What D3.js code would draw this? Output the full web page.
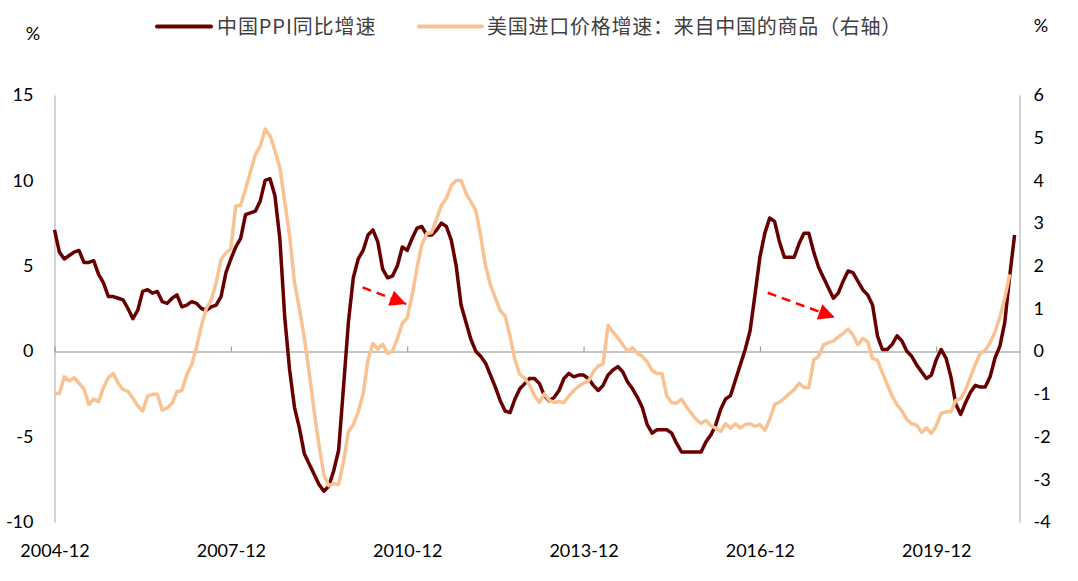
<!DOCTYPE html>
<html>
<head>
<meta charset="utf-8">
<script src="https://cdn.jsdelivr.net/npm/d3@7"></script>
<style>
  body { margin: 0; background: #fff; }
  text { font-family: Lato, "Noto Sans CJK SC", sans-serif; }
</style>
</head>
<body>
<div id="container"></div>
<script>
const w = 1078;
const h = 581;

// monthly, starting 2004-12
const ppi = [7.1,
  5.8,5.4,5.6,5.8,5.9,5.2,5.2,5.3,4.5,4.0,3.2,3.2,
  3.1,3.0,2.5,1.9,2.4,3.5,3.6,3.4,3.5,2.9,2.8,3.1,
  3.3,2.6,2.7,2.9,2.8,2.5,2.4,2.6,2.7,3.2,4.6,5.4,
  6.1,6.6,8.0,8.1,8.2,8.8,10.0,10.1,9.1,6.6,2.0,-1.1,
  -3.3,-4.5,-6.0,-6.6,-7.2,-7.8,-8.2,-7.9,-7.0,-5.8,-2.1,1.7,
  4.3,5.4,5.9,6.8,7.1,6.4,4.8,4.3,4.4,5.0,6.1,5.9,
  6.6,7.2,7.3,6.8,6.8,7.1,7.5,7.3,6.5,5.0,2.7,1.7,
  0.7,0.0,-0.3,-0.7,-1.4,-2.1,-2.9,-3.5,-3.6,-2.8,-2.2,-1.9,
  -1.6,-1.6,-1.9,-2.6,-2.9,-2.7,-2.3,-1.6,-1.3,-1.5,-1.4,-1.4,
  -1.6,-2.0,-2.3,-2.0,-1.4,-1.1,-0.9,-1.2,-1.8,-2.2,-2.7,-3.3,
  -4.3,-4.8,-4.6,-4.6,-4.6,-4.8,-5.4,-5.9,-5.9,-5.9,-5.9,-5.9,
  -5.3,-4.9,-4.3,-3.4,-2.8,-2.6,-1.7,-0.8,0.1,1.2,3.3,5.5,
  6.9,7.8,7.6,6.4,5.5,5.5,5.5,6.3,6.9,6.9,5.8,4.9,
  4.3,3.7,3.1,3.4,4.1,4.7,4.6,4.1,3.6,3.3,2.7,0.9,
  0.1,0.1,0.4,0.9,0.6,0.0,-0.3,-0.8,-1.2,-1.6,-1.4,-0.5,
  0.1,-0.4,-1.5,-3.1,-3.7,-3.0,-2.4,-2.0,-2.1,-2.1,-1.5,-0.4,
  0.3,1.7,4.4,6.8];

// US import price index, goods from China, yoy (right axis), starting 2004-12
const usImport = [-0.99,
  -0.99,-0.6,-0.7,-0.62,-0.75,-0.88,-1.25,-1.12,-1.18,-0.85,-0.62,-0.52,
  -0.75,-0.9,-0.94,-1.1,-1.28,-1.4,-1.05,-1.01,-1.01,-1.38,-1.33,-1.22,
  -0.95,-0.92,-0.55,-0.32,0.1,0.6,1.0,1.2,1.6,2.15,2.3,2.4,
  3.4,3.42,3.8,4.2,4.6,4.8,5.2,5.05,4.7,4.3,3.5,2.7,
  1.6,1.0,0.3,-0.5,-1.4,-2.2,-2.9,-3.15,-3.1,-3.12,-2.6,-1.88,
  -1.72,-1.42,-1.0,-0.2,0.18,0.05,0.16,-0.05,0.0,0.3,0.65,0.78,
  1.3,1.95,2.5,2.75,2.78,3.1,3.42,3.58,3.88,4.0,4.0,3.7,
  3.5,3.3,2.7,2.0,1.55,1.25,0.95,0.82,0.35,-0.2,-0.55,-0.63,
  -0.8,-1.05,-1.2,-1.0,-1.15,-1.2,-1.18,-1.2,-1.05,-0.92,-0.82,-0.75,
  -0.7,-0.48,-0.35,-0.3,0.6,0.45,0.32,0.15,0.0,0.08,-0.05,-0.12,
  -0.25,-0.45,-0.52,-0.52,-1.05,-1.2,-1.22,-1.12,-1.3,-1.45,-1.6,-1.69,
  -1.62,-1.75,-1.8,-1.88,-1.7,-1.8,-1.7,-1.8,-1.72,-1.7,-1.76,-1.72,
  -1.85,-1.6,-1.25,-1.19,-1.1,-1.0,-0.9,-0.75,-0.85,-0.85,-0.2,-0.12,
  0.15,0.2,0.24,0.33,0.42,0.52,0.38,0.15,0.3,0.22,-0.17,-0.21,
  -0.5,-0.78,-1.05,-1.25,-1.4,-1.6,-1.7,-1.73,-1.9,-1.8,-1.92,-1.75,
  -1.45,-1.42,-1.42,-1.15,-1.11,-0.9,-0.6,-0.3,-0.05,0.02,0.2,0.45,
  0.8,1.25,1.8];

const xTicks = [0, 36, 72, 108, 144, 180];
const xTickLabels = ["2004-12", "2007-12", "2010-12", "2013-12", "2016-12", "2019-12"];
const leftTicks = [-10, -5, 0, 5, 10, 15];
const rightTicks = [-4, -3, -2, -1, 0, 1, 2, 3, 4, 5, 6];
const seriesNames = ["中国PPI同比增速", "美国进口价格增速：来自中国的商品（右轴）"];

// dashed arrows: [month index, left-axis value]
const arrowFrom = [[62.9, 3.74], [145.6, 3.42]];
const arrowTo = [[71.8, 2.76], [159.3, 1.98]];

const red = "#680000";
const orange = "#f8c292";

const svg = d3.select("#container")
  .append("svg")
  .attr("width", w)
  .attr("height", h);

const xScale = d3.scaleLinear().domain([0, 197]).range([54.5, 1019.5]);
const yLeft = d3.scaleLinear().domain([-10, 15]).range([522, 95]);
const yRight = d3.scaleLinear().domain([-4, 6]).range([522, 95]);

// left axis
const leftAxis = svg.append("g")
  .attr("transform", "translate(54.5,0)")
  .call(d3.axisLeft(yLeft).tickValues(leftTicks).tickSize(0).tickPadding(21)
    .tickFormat((d) => String(d)));
leftAxis.select(".domain").attr("stroke", "#a6a6a6");
leftAxis.selectAll("text").style("font-size", "18px").attr("fill", "#000");

// right axis
const rightAxis = svg.append("g")
  .attr("transform", "translate(1019.5,0)")
  .call(d3.axisRight(yRight).tickValues(rightTicks).tickSize(0).tickPadding(14)
    .tickFormat((d) => String(d)));
rightAxis.select(".domain").attr("stroke", "#a6a6a6");
rightAxis.selectAll("text").style("font-size", "18px").attr("fill", "#000");

// zero line with ticks
const zeroAxis = svg.append("g")
  .attr("transform", "translate(0," + Math.round(yLeft(0)) + ".5)")
  .call(d3.axisBottom(xScale).tickValues(xTicks).tickSizeInner(-5).tickSizeOuter(0).tickFormat(""));
zeroAxis.select(".domain").attr("stroke", "#8c8c8c");
zeroAxis.selectAll("line").attr("stroke", "#8c8c8c");

// x labels
const xAxis = svg.append("g")
  .attr("transform", "translate(0,522)")
  .call(d3.axisBottom(xScale).tickValues(xTicks).tickSize(0).tickPadding(22)
    .tickFormat((d, i) => xTickLabels[i]));
xAxis.select(".domain").remove();
xAxis.selectAll("text").style("font-size", "18px").attr("fill", "#000");

// % units
svg.append("text").attr("x", 33).attr("y", 40).attr("text-anchor", "middle")
  .style("font-size", "18px").text("%");
svg.append("text").attr("x", 1041).attr("y", 32).attr("text-anchor", "middle")
  .style("font-size", "18px").text("%");

// lines
const redLine = d3.line().x((d, i) => xScale(i)).y((d) => yLeft(d));
const orangeLine = d3.line().x((d, i) => xScale(i)).y((d) => yRight(d));

svg.append("path")
  .datum(ppi)
  .attr("d", redLine)
  .attr("fill", "none")
  .attr("stroke", red)
  .attr("stroke-width", 3.5)
  .attr("stroke-linejoin", "round");

svg.append("path")
  .datum(usImport)
  .attr("d", orangeLine)
  .attr("fill", "none")
  .attr("stroke", orange)
  .attr("stroke-width", 3.5)
  .attr("stroke-linejoin", "round");

// arrows
svg.append("defs").append("marker")
  .attr("id", "head")
  .attr("viewBox", "0 0 10 10")
  .attr("refX", 10)
  .attr("refY", 5)
  .attr("markerWidth", 7.5)
  .attr("markerHeight", 6.5)
  .attr("markerUnits", "strokeWidth")
  .attr("orient", "auto")
  .append("path")
  .attr("d", "M0,0 L10,5 L0,10 Z")
  .attr("fill", "#ff0000");

arrowFrom.forEach((a, i) => {
  svg.append("line")
    .attr("x1", xScale(a[0]))
    .attr("y1", yLeft(a[1]))
    .attr("x2", xScale(arrowTo[i][0]))
    .attr("y2", yLeft(arrowTo[i][1]))
    .attr("stroke", "#ff0000")
    .attr("stroke-width", 2.5)
    .attr("stroke-dasharray", "9,6")
    .attr("marker-end", "url(#head)");
});

// legend
const legend = svg.append("g");
legend.append("line")
  .attr("x1", 157).attr("x2", 211).attr("y1", 26.5).attr("y2", 26.5)
  .attr("stroke", red).attr("stroke-width", 4).attr("stroke-linecap", "round");
legend.append("text")
  .attr("x", 217).attr("y", 26.5).attr("dy", "0.36em")
  .style("font-family", "'Noto Sans CJK SC', sans-serif")
  .style("font-size", "20px")
  .style("letter-spacing", "0.9px")
  .attr("fill", "#404040")
  .text(seriesNames[0]);
legend.append("line")
  .attr("x1", 419).attr("x2", 482).attr("y1", 26.5).attr("y2", 26.5)
  .attr("stroke", orange).attr("stroke-width", 4).attr("stroke-linecap", "round");
legend.append("text")
  .attr("x", 487).attr("y", 26.5).attr("dy", "0.36em")
  .style("font-family", "'Noto Sans CJK SC', sans-serif")
  .style("font-size", "20px")
  .style("letter-spacing", "0.75px")
  .attr("fill", "#404040")
  .text(seriesNames[1]);
</script>
</body>
</html>
